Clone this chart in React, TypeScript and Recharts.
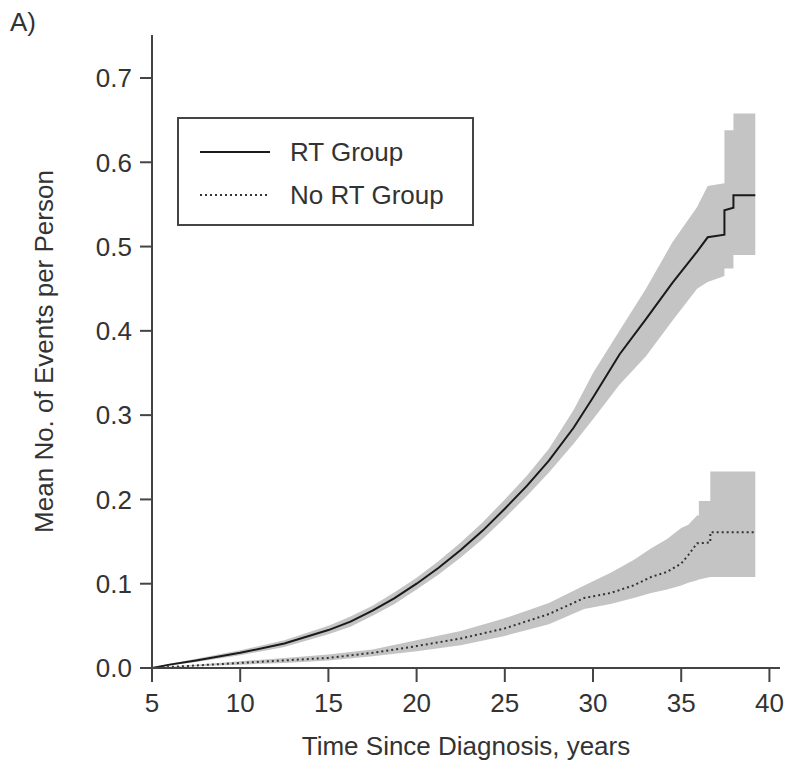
import { Area, ComposedChart, Label, Line, XAxis, YAxis } from 'recharts';

// RT group: time (years), mean events, 95% CI bounds
const rtTime = [5, 6, 7.5, 10, 12.5, 15, 16.25, 17.5, 18.75, 20, 21.25, 22.5, 23.75, 25, 26.25, 27.5, 28.9, 30, 31.5, 33, 34.5, 35.9, 36.5, 37.45, 37.45, 37.96, 37.96, 39.2];
const rtMean = [0, 0.004, 0.009, 0.018, 0.029, 0.045, 0.055, 0.068, 0.083, 0.1, 0.119, 0.14, 0.163, 0.189, 0.216, 0.246, 0.285, 0.321, 0.372, 0.414, 0.457, 0.494, 0.511, 0.514, 0.543, 0.546, 0.561, 0.561];
const rtLow = [0, 0.003, 0.007, 0.015, 0.025, 0.04, 0.049, 0.062, 0.076, 0.093, 0.111, 0.131, 0.153, 0.178, 0.204, 0.232, 0.266, 0.295, 0.336, 0.37, 0.412, 0.45, 0.458, 0.465, 0.474, 0.474, 0.49, 0.49];
const rtHigh = [0, 0.005, 0.011, 0.021, 0.033, 0.05, 0.061, 0.074, 0.09, 0.107, 0.127, 0.149, 0.173, 0.2, 0.228, 0.26, 0.306, 0.35, 0.4, 0.45, 0.505, 0.547, 0.572, 0.575, 0.638, 0.638, 0.658, 0.658];

// No RT group
const noTime = [5, 7.5, 10, 12.5, 15, 17.5, 20, 22.5, 25, 27.5, 29.5, 31, 32.3, 33.3, 34.2, 35, 35.4, 35.9, 36.0, 36.0, 36.65, 36.65, 39.2];
const noMean = [0, 0.003, 0.006, 0.009, 0.012, 0.018, 0.026, 0.035, 0.047, 0.064, 0.083, 0.089, 0.098, 0.108, 0.114, 0.124, 0.134, 0.148, 0.148, 0.148, 0.149, 0.161, 0.161];
const noLow = [0, 0.002, 0.004, 0.006, 0.009, 0.014, 0.02, 0.027, 0.038, 0.052, 0.07, 0.076, 0.083, 0.089, 0.093, 0.098, 0.101, 0.104, 0.105, 0.105, 0.108, 0.108, 0.108];
const noHigh = [0, 0.004, 0.008, 0.012, 0.016, 0.022, 0.033, 0.044, 0.059, 0.077, 0.098, 0.113, 0.128, 0.142, 0.153, 0.166, 0.17, 0.181, 0.181, 0.198, 0.198, 0.233, 0.233];

const xTicks = [5, 10, 15, 20, 25, 30, 35, 40];
const yTicks = [0, 0.1, 0.2, 0.3, 0.4, 0.5, 0.6, 0.7];

const rtData = rtTime.map((t, i) => ({ t, mean: rtMean[i], ci: [rtLow[i], rtHigh[i]] }));
const noData = noTime.map((t, i) => ({ t, mean: noMean[i], ci: [noLow[i], noHigh[i]] }));

const AXIS = '#444';
const TEXT = '#333';
const BAND = '#c4c4c4';
const FONT = '"Liberation Sans", Arial, sans-serif';

export default function App() {
  const tick = { fontSize: 26, fill: TEXT, fontFamily: FONT };
  return (
    <div style={{ position: 'absolute', left: 0, top: 0, width: 786, height: 767, fontFamily: FONT, background: '#fff' }}>
      <ComposedChart width={786} height={767} margin={{ top: 35, right: 6, bottom: 0, left: 0 }}>
        <XAxis
          type="number"
          dataKey="t"
          domain={[5, 40.6]}
          allowDataOverflow
          ticks={xTicks}
          tick={tick}
          tickSize={14}
          tickMargin={12}
          height={99}
          axisLine={{ stroke: AXIS, strokeWidth: 2 }}
          tickLine={{ stroke: AXIS, strokeWidth: 2 }}
        >
          <Label value="Time Since Diagnosis, years" position="insideBottom" offset={12} style={{ fontSize: 26, fill: TEXT, fontFamily: FONT }} />
        </XAxis>
        <YAxis
          type="number"
          domain={[0, 0.751]}
          allowDataOverflow
          ticks={yTicks}
          tickFormatter={(v: number) => v.toFixed(1)}
          tick={tick}
          tickSize={12}
          tickMargin={8}
          width={152}
          axisLine={{ stroke: AXIS, strokeWidth: 2 }}
          tickLine={{ stroke: AXIS, strokeWidth: 2 }}
        >
          <Label
            value="Mean No. of Events per Person"
            angle={-90}
            position="insideLeft"
            offset={44}
            style={{ fontSize: 26, fill: TEXT, fontFamily: FONT, textAnchor: 'middle' }}
          />
        </YAxis>
        <Area data={rtData} dataKey="ci" type="linear" stroke="none" fill={BAND} fillOpacity={1} isAnimationActive={false} />
        <Area data={noData} dataKey="ci" type="linear" stroke="none" fill={BAND} fillOpacity={1} isAnimationActive={false} />
        <Line data={rtData} dataKey="mean" type="linear" stroke="#1a1a1a" strokeWidth={2} dot={false} isAnimationActive={false} />
        <Line
          data={noData}
          dataKey="mean"
          type="linear"
          stroke="#333"
          strokeWidth={2}
          strokeDasharray="2 3"
          dot={false}
          isAnimationActive={false}
        />
      </ComposedChart>
      <svg width={786} height={767} style={{ position: 'absolute', left: 0, top: 0, pointerEvents: 'none' }}>
        <text x={10} y={31} fontSize={26} fill={TEXT} fontFamily={FONT}>
          A)
        </text>
        <rect x={178} y={118} width={295} height={107} fill="#fff" stroke={AXIS} strokeWidth={2} />
        <line x1={200} x2={270} y1={152} y2={152} stroke="#1a1a1a" strokeWidth={2} />
        <text x={290} y={161} fontSize={26} fill={TEXT} fontFamily={FONT}>
          RT Group
        </text>
        <line x1={200} x2={270} y1={195} y2={195} stroke="#333" strokeWidth={2} strokeDasharray="2 3" />
        <text x={290} y={204} fontSize={26} fill={TEXT} fontFamily={FONT}>
          No RT Group
        </text>
      </svg>
    </div>
  );
}
